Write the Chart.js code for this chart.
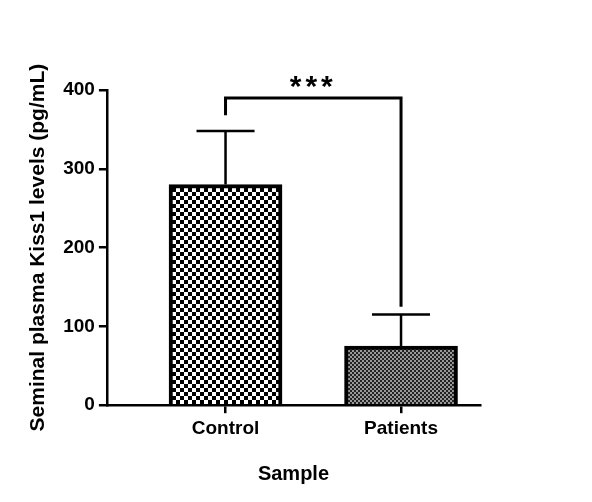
<!DOCTYPE html>
<html><head><meta charset="utf-8">
<script src="https://cdn.jsdelivr.net/npm/chart.js@4/dist/chart.umd.min.js"></script>
<style>body{margin:0;background:#fff}#wrap{width:592px;height:502px}</style>
</head><body><div id="wrap"><canvas id="c"></canvas></div>
<script>
const categories = ['Control', 'Patients'];
const means = [280, 75];
const errors = [68, 40];
const yTicks = [0, 100, 200, 300, 400];
const significance = '***';

function checker(size, dark, light) {
    const c = document.createElement('canvas');
    c.width = c.height = size * 2;
    const g = c.getContext('2d');
    g.fillStyle = light; g.fillRect(0, 0, size * 2, size * 2);
    g.fillStyle = dark; g.fillRect(0, 0, size, size); g.fillRect(size, size, size, size);
    return g.createPattern(c, 'repeat');
}
const ctx = document.getElementById('c').getContext('2d');
const fills = [checker(4, '#000', '#fff'), checker(2, '#222', '#999')];
const font = 'Arial, "Liberation Sans"';

const extras = {
    id: 'extras',
    afterDatasetsDraw(chart) {
        const g = chart.ctx, xs = chart.scales.x, ys = chart.scales.y;
        g.save();
        g.strokeStyle = '#000';
        g.lineWidth = 2.5;
        means.forEach((m, i) => {
            const x = xs.getPixelForValue(i + 1);
            const top = ys.getPixelForValue(m + errors[i]);
            g.beginPath();
            g.moveTo(x, ys.getPixelForValue(m)); g.lineTo(x, top);
            g.moveTo(x - 29, top); g.lineTo(x + 29, top);
            g.stroke();
        });
        const x1 = xs.getPixelForValue(1), x2 = xs.getPixelForValue(2);
        const yb = ys.getPixelForValue(390);
        g.lineWidth = 3;
        g.beginPath();
        g.moveTo(x1, ys.getPixelForValue(368)); g.lineTo(x1, yb);
        g.lineTo(x2, yb); g.lineTo(x2, ys.getPixelForValue(125));
        g.stroke();
        g.fillStyle = '#000';
        g.font = 'bold 30px ' + font;
        g.textAlign = 'center';
        if ('letterSpacing' in g) g.letterSpacing = '4px';
        g.fillText(significance, (x1 + x2) / 2, yb - 2);
        g.restore();
    }
};

new Chart(ctx, {
    type: 'bar',
    data: {
        datasets: [{
            data: categories.map((c, i) => ({ x: i + 1, y: means[i] })),
            backgroundColor: fills,
            borderColor: '#000',
            borderWidth: 4,
            borderSkipped: 'bottom',
            barThickness: 113
        }]
    },
    options: {
        responsive: true,
        maintainAspectRatio: false,
        animation: false,
        layout: { padding: { top: 90, right: 112, bottom: 12, left: 22 } },
        plugins: { legend: { display: false }, tooltip: { enabled: false } },
        scales: {
            x: {
                type: 'linear', min: 0.324, max: 2.45, offset: false,
                afterBuildTicks(s) { s.ticks = [{ value: 1 }, { value: 2 }]; },
                ticks: { color: '#000', font: { family: font, size: 19, weight: 'bold' }, padding: 4,
                    callback: v => categories[v - 1] },
                grid: { drawOnChartArea: false, offset: false, color: '#000', lineWidth: 2.5, tickLength: 8 },
                border: { color: '#000', width: 2.5 },
                title: { display: true, text: 'Sample', color: '#000', padding: { top: 18 },
                    font: { family: font, size: 20, weight: 'bold' } }
            },
            y: {
                min: 0, max: 400,
                afterBuildTicks(s) { s.ticks = yTicks.map(v => ({ value: v })); },
                ticks: { color: '#000', font: { family: font, size: 19, weight: 'bold' }, padding: 4 },
                grid: { drawOnChartArea: false, color: '#000', lineWidth: 2.5, tickLength: 8 },
                border: { color: '#000', width: 2.5 },
                title: { display: true, text: 'Seminal plasma Kiss1 levels (pg/mL)', color: '#000', padding: { bottom: 8 },
                    font: { family: font, size: 21, weight: 'bold' } }
            }
        }
    },
    plugins: [extras]
});
</script></body></html>
